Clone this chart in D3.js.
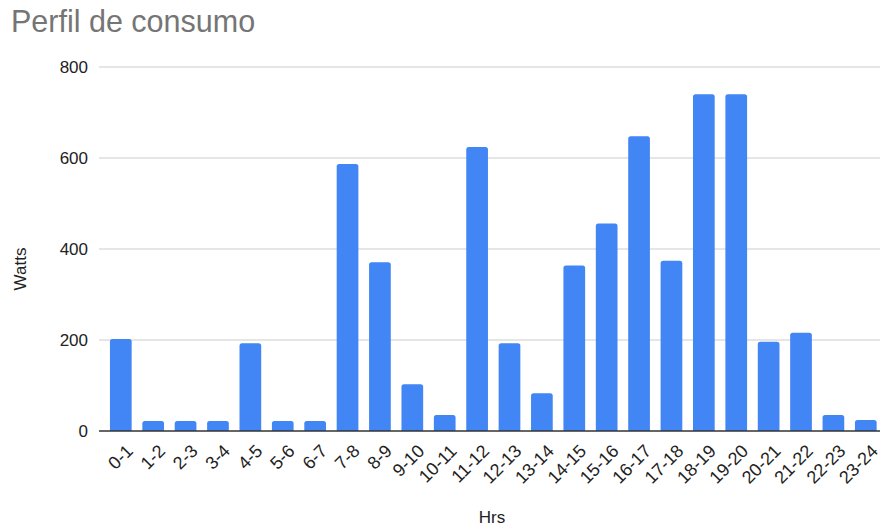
<!DOCTYPE html>
<html>
<head>
<meta charset="utf-8">
<script src="https://cdn.jsdelivr.net/npm/d3@7"></script>
<style>
  html, body { margin: 0; padding: 0; background: #fff; }
  svg { display: block; font-family: "Liberation Sans", Arial, sans-serif; }
</style>
</head>
<body>
<svg id="chart" width="882" height="527"></svg>
<script>
// Hourly consumption profile (watts per hour slot)
const hours = ["0-1","1-2","2-3","3-4","4-5","5-6","6-7","7-8","8-9","9-10","10-11","11-12",
               "12-13","13-14","14-15","15-16","16-17","17-18","18-19","19-20","20-21","21-22","22-23","23-24"];
const watts = [202, 22, 22, 22, 193, 22, 22, 587, 371, 103, 35, 624,
               193, 83, 364, 456, 648, 374, 740, 740, 196, 216, 35, 24];
const yTicks = [0, 200, 400, 600, 800];

const svg = d3.select("#chart");
const plot = { left: 99, right: 880, top: 67, bottom: 431 };

const x = d3.scaleBand()
  .domain(hours)
  .range([104.6, 882])
  .paddingInner(0.33)
  .paddingOuter(0.165);

const y = d3.scaleLinear()
  .domain([0, 800])
  .range([plot.bottom, plot.top]);

// Title
svg.append("text")
  .attr("x", 11).attr("y", 32)
  .attr("font-size", 30.5)
  .attr("fill", "#757575")
  .text("Perfil de consumo");

// Gridlines and y tick labels
const yAxis = svg.append("g");
yAxis.selectAll("line")
  .data(yTicks.filter(d => d !== 0))
  .join("line")
  .attr("x1", plot.left).attr("x2", plot.right)
  .attr("y1", d => y(d)).attr("y2", d => y(d))
  .attr("stroke", "#cccccc").attr("stroke-width", 1);

yAxis.selectAll("text")
  .data(yTicks)
  .join("text")
  .attr("x", 88)
  .attr("y", d => y(d))
  .attr("dy", "0.35em")
  .attr("text-anchor", "end")
  .attr("font-size", 17)
  .attr("fill", "#222")
  .text(d => d);

// Bars
svg.append("g")
  .selectAll("path")
  .data(hours.map((h, i) => ({ h, v: watts[i] })))
  .join("path")
  .attr("fill", "#4285f4")
  .attr("d", d => {
    const x0 = x(d.h), w = x.bandwidth();
    const y0 = y(d.v), y1 = y(0), r = Math.min(2.5, (y1 - y0) / 2);
    return `M${x0},${y1}V${y0 + r}Q${x0},${y0} ${x0 + r},${y0}H${x0 + w - r}Q${x0 + w},${y0} ${x0 + w},${y0 + r}V${y1}Z`;
  });

// Baseline
svg.append("line")
  .attr("x1", plot.left).attr("x2", plot.right)
  .attr("y1", y(0)).attr("y2", y(0))
  .attr("stroke", "#333").attr("stroke-width", 1.3);

// X tick labels, rotated
svg.append("g")
  .selectAll("text")
  .data(hours)
  .join("text")
  .attr("transform", d => `translate(${x(d) + x.bandwidth() / 2 + 4},${plot.bottom + 12}) rotate(-45)`)
  .attr("text-anchor", "end")
  .attr("dy", "0.72em")
  .attr("font-size", 18)
  .attr("fill", "#222")
  .text(d => d);

// Axis titles
svg.append("text")
  .attr("transform", `translate(26,${(plot.top + plot.bottom) / 2 + 20}) rotate(-90)`)
  .attr("text-anchor", "middle")
  .attr("font-size", 17)
  .attr("fill", "#222")
  .text("Watts");

svg.append("text")
  .attr("x", 492).attr("y", 523)
  .attr("text-anchor", "middle")
  .attr("font-size", 17)
  .attr("fill", "#222")
  .text("Hrs");
</script>
</body>
</html>
